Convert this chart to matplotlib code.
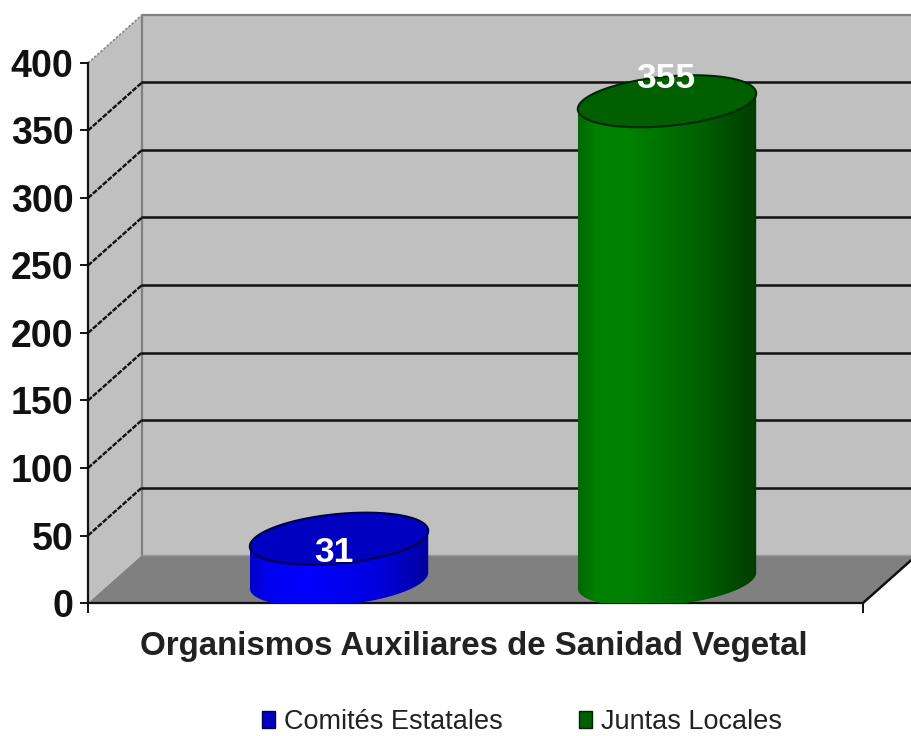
import numpy as np
import matplotlib
matplotlib.use("Agg")
import matplotlib.pyplot as plt
from matplotlib.patches import Polygon, Patch
from matplotlib.colors import LinearSegmentedColormap

series_names = ["Comités Estatales", "Juntas Locales"]
series_values = [31, 355]
series_labels = ["31", "355"]
axis_title = "Organismos Auxiliares de Sanidad Vegetal"
y_ticks = [0, 50, 100, 150, 200, 250, 300, 350, 400]

W, H = 912, 736
plt.rcParams["font.family"] = ["Liberation Sans", "DejaVu Sans"]
fig = plt.figure(figsize=(W / 100, H / 100), dpi=100, facecolor="white")

# plot box in pixels
L, R, T, B = 88, 863, 63, 603
ax = fig.add_axes([L / W, 1 - B / H, (R - L) / W, (B - T) / H], facecolor="none")
ax.set_xlim(-0.683, 1.680)
ax.set_ylim(0, 400)
px_x = (1.680 + 0.683) / (R - L)   # data per pixel
px_y = 400 / (B - T)
DX, DY = 54 * px_x, 48 * px_y      # depth of the 3-D box
x0, x1 = ax.get_xlim()

# walls
ax.add_patch(Polygon([(x0, 0), (x0 + DX, DY), (x0 + DX, 400 + DY), (x0, 400)],
                     fc="#C0C0C0", ec="none", clip_on=False, zorder=1))
ax.add_patch(Polygon([(x0 + DX, DY), (x1 + DX, DY), (x1 + DX, 400 + DY), (x0 + DX, 400 + DY)],
                     fc="#C0C0C0", ec="none", clip_on=False, zorder=1))
ax.add_patch(Polygon([(x0, 0), (x1, 0), (x1 + DX, DY), (x0 + DX, DY)],
                     fc="#808080", ec="none", clip_on=False, zorder=2))
ax.plot([x0 + DX, x0 + DX, x1 + DX], [DY, 400 + DY, 400 + DY], color="#808080", lw=1.6,
        clip_on=False, zorder=2)
ax.plot([x0 + DX, x1 + DX], [DY, DY], color="#9a9a9a", lw=1, clip_on=False, zorder=2)

# gridlines
for v in y_ticks[1:-1]:
    ax.plot([x0 + DX, x1 + DX], [v + DY, v + DY], color="#111111", lw=1.8, clip_on=False, zorder=3)
    ax.plot([x0, x0 + DX], [v, v + DY], color="#111111", lw=1.7, ls=(0, (2.2, 0.6)),
            clip_on=False, zorder=3)
ax.plot([x0, x0 + DX], [400, 400 + DY], color="#888888", lw=1.2, ls=(0, (1.5, 1)),
        clip_on=False, zorder=3)
ax.plot([x1, x1 + DX], [0, DY], color="#111111", lw=1.8, clip_on=False, zorder=3)


def ellipse(xc, v, t):
    """Oblique disc in the base plane of the box, centred mid-depth."""
    a, b, c = 85, 27, 26
    x = xc + DX / 2 + (a * np.cos(t) + b * np.sin(t)) * px_x
    y = v + DY / 2 + (c * np.sin(t) - 1.5) * px_y
    return np.column_stack([x, y])


t0 = np.arctan2(27, 85)
cmaps = [
    LinearSegmentedColormap.from_list("b", [(0, "#0000C8"), (0.1, "#0000F0"), (0.3, "#0000FF"),
                                            (0.7, "#0000E0"), (1, "#0000A0")]),
    LinearSegmentedColormap.from_list("g", [(0, "#006800"), (0.1, "#008000"), (0.3, "#008000"),
                                            (0.65, "#006400"), (1, "#003C00")]),
]
tops = ["#0000C0", "#006000"]
edges = ["#00004A", "#002800"]
grad = np.linspace(0, 1, 256).reshape(1, -1)

for i, val in enumerate(series_values):
    low = ellipse(i, 0, np.linspace(t0 + np.pi, t0 + 2 * np.pi, 120))
    low[:, 1] = np.maximum(low[:, 1], 0)
    up = ellipse(i, val, np.linspace(t0, t0 + np.pi, 120))
    im = ax.imshow(grad, cmap=cmaps[i], aspect="auto", zorder=5,
                   extent=[low[:, 0].min(), low[:, 0].max(), 0, val + DY + 40 * px_y])
    sidec = Polygon(np.vstack([low, up]), closed=True, transform=ax.transData)
    im.set_clip_path(sidec)
    top = ellipse(i, val, np.linspace(0, 2 * np.pi, 240))
    ax.add_patch(Polygon(top, closed=True, fc=tops[i], ec=edges[i], lw=1.5, clip_on=False, zorder=7))

ax.set_xlim(x0, x1)
ax.set_ylim(0, 400)

# data labels
offsets = [(22, 9), (26, 45)]
for i, (val, lab) in enumerate(zip(series_values, series_labels)):
    ax.annotate(lab, (i, val), xytext=(offsets[i][0] * 0.72, offsets[i][1] * 0.72),
                textcoords="offset points", ha="center", va="center",
                color="white", fontsize=25.5, fontweight="bold", zorder=9)

# axes
for s in ("top", "right"):
    ax.spines[s].set_visible(False)
for s in ("left", "bottom"):
    ax.spines[s].set_color("#111111")
    ax.spines[s].set_linewidth(1.6)
    ax.spines[s].set_zorder(4)
ax.set_xticks([x0, x1], labels=["", ""])
ax.tick_params(axis="x", length=7, width=1.4, color="#111111")
ax.set_yticks(y_ticks)
ax.tick_params(axis="y", length=6, width=1.4, color="#111111", pad=4.5, labelsize=27)
for t in ax.get_yticklabels():
    t.set_fontweight("bold")
    t.set_color("#111111")

fig.text(474 / W, 1 - 647 / H, axis_title, ha="center", va="center", fontsize=23.8,
         fontweight="bold", color="#222222")

handles = [Patch(fc="#0000C0", ec="#000050", label=series_names[0]),
           Patch(fc="#006000", ec="#002000", label=series_names[1])]
fig.legend(handles=handles, ncol=2, loc="center", bbox_to_anchor=(522 / W, 1 - 722 / H),
           frameon=False, fontsize=19.5, handlelength=0.47, handleheight=0.62,
           handletextpad=0.31, columnspacing=2.85, labelcolor="#222222", borderpad=0)

fig.savefig("out.png", dpi=100, facecolor="white")
